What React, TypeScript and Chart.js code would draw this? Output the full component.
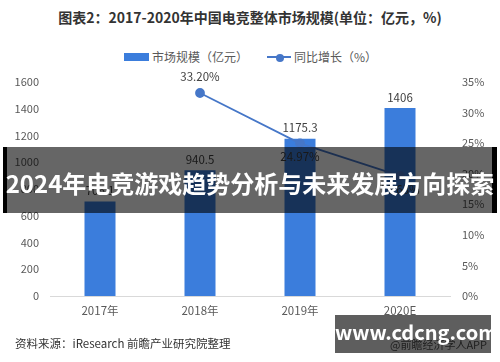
import React, { useEffect, useRef } from "react";
import { Chart, registerables } from "chart.js";

Chart.register(...registerables);

const TITLE = "图表2：2017-2020年中国电竞整体市场规模(单位：亿元，%)";
const SOURCE = "资料来源：iResearch 前瞻产业研究院整理";
const BANNER = "2024年电竞游戏趋势分析与未来发展方向探索";
const SITE = "www.cdcng.com";
const APP_MARK = "@前瞻经济学人APP";

const categories = ["2017年", "2018年", "2019年", "2020E"];
const marketLabel = "市场规模（亿元）";
const marketValues = [706.1, 940.5, 1175.3, 1406];
const growthLabel = "同比增长（%）";
const growthValues = [null, 33.2, 24.97, 19.63];
const leftTicks = { min: 0, max: 1600, step: 200 };
const rightTicks = { min: 0, max: 35, step: 5 };

const FONT = '"Noto Sans CJK SC", "Noto Sans", sans-serif';
const BAR_COLOR = "#3b7ddc";
const LINE_COLOR = "#4677c8";
const TICK_COLOR = "#595959";

const labelPlugin = {
  id: "valueLabels",
  afterDatasetsDraw(chart: any) {
    const ctx = chart.ctx;
    ctx.save();
    ctx.font = `11.5px ${FONT}`;
    ctx.fillStyle = "#404040";
    ctx.textAlign = "center";
    const barMeta = chart.getDatasetMeta(0);
    barMeta.data.forEach((el: any, i: number) => {
      ctx.textBaseline = "bottom";
      ctx.fillText(String(marketValues[i]), el.x, el.y - 5);
    });
    const lineMeta = chart.getDatasetMeta(1);
    lineMeta.data.forEach((el: any, i: number) => {
      const v = growthValues[i];
      if (v === null || v === undefined) return;
      const txt = v.toFixed(2) + "%";
      if (i === 1) {
        ctx.textBaseline = "bottom";
        ctx.fillText(txt, el.x, el.y - 11);
      } else {
        ctx.textBaseline = "top";
        ctx.fillText(txt, el.x, el.y + 8);
      }
    });
    ctx.restore();
  },
};

export default function App() {
  const ref = useRef<HTMLCanvasElement | null>(null);

  useEffect(() => {
    if (!ref.current) return;
    const chart = new Chart(ref.current, {
      type: "bar",
      data: {
        labels: categories,
        datasets: [
          {
            type: "bar",
            label: marketLabel,
            data: marketValues,
            backgroundColor: BAR_COLOR,
            categoryPercentage: 1,
            barPercentage: 0.31,
            yAxisID: "y",
            order: 2,
          },
          {
            type: "line",
            label: growthLabel,
            data: growthValues as any,
            borderColor: LINE_COLOR,
            backgroundColor: LINE_COLOR,
            borderWidth: 1.8,
            pointRadius: 4,
            pointBackgroundColor: LINE_COLOR,
            pointBorderColor: LINE_COLOR,
            yAxisID: "y1",
            order: 1,
          } as any,
        ],
      },
      options: {
        animation: false,
        responsive: false,
        layout: { padding: { top: 82, bottom: 38, left: 0, right: 0 } },
        plugins: {
          legend: { display: false },
          title: { display: false },
          tooltip: { enabled: false },
        },
        scales: {
          x: {
            grid: { display: false, drawTicks: false },
            border: { display: true, color: "#d9d9d9", width: 1 },
            ticks: { color: TICK_COLOR, font: { family: FONT, size: 11.5 }, padding: 8 },
            afterFit: (s: any) => {
              s.height = 28;
            },
          },
          y: {
            position: "left",
            min: leftTicks.min,
            max: leftTicks.max,
            grid: { display: false, drawTicks: false },
            border: { display: false },
            ticks: {
              stepSize: leftTicks.step,
              color: TICK_COLOR,
              font: { family: FONT, size: 11 },
              padding: 11,
              callback: (v: any) => String(v),
            },
            afterFit: (s: any) => {
              s.width = 50;
            },
          },
          y1: {
            position: "right",
            min: rightTicks.min,
            max: rightTicks.max,
            grid: { display: false, drawTicks: false },
            border: { display: false },
            ticks: {
              stepSize: rightTicks.step,
              color: TICK_COLOR,
              font: { family: FONT, size: 11 },
              padding: 12,
              callback: (v: any) => v + "%",
            },
            afterFit: (s: any) => {
              s.width = 50;
            },
          },
        },
      } as any,
      plugins: [labelPlugin],
    });
    return () => chart.destroy();
  }, []);

  const abs = (o: any) => ({ position: "absolute" as const, ...o });

  return (
    <div
      style={{
        position: "fixed",
        left: 0,
        top: 0,
        width: 500,
        height: 362,
        background: "#fff",
        overflow: "hidden",
        fontFamily: FONT,
      }}
    >
      <div
        style={abs({
          left: 0,
          top: 7,
          width: 500,
          textAlign: "center",
          fontSize: 14,
          fontWeight: 700,
          color: "#333",
          lineHeight: "20px",
          whiteSpace: "nowrap",
        })}
      >
        {TITLE}
      </div>
      {/* legend */}
      <div style={abs({ left: 124, top: 53, width: 25, height: 8, background: BAR_COLOR })} />
      <div style={abs({ left: 152, top: 49, fontSize: 12, color: TICK_COLOR, lineHeight: "16px", whiteSpace: "nowrap" })}>
        {marketLabel}
      </div>
      <div style={abs({ left: 267, top: 56, width: 24, height: 2, background: LINE_COLOR })} />
      <div style={abs({ left: 275.5, top: 53.5, width: 8, height: 8, borderRadius: 4, background: LINE_COLOR })} />
      <div style={abs({ left: 294, top: 49, fontSize: 12, color: TICK_COLOR, lineHeight: "16px", whiteSpace: "nowrap" })}>
        {growthLabel}
      </div>

      <canvas ref={ref} width={500} height={362} style={abs({ left: 0, top: 0, width: 500, height: 362 })} />

      <div style={abs({ left: 15, top: 336, fontSize: 11.5, color: "#333", lineHeight: "14px", whiteSpace: "nowrap" })}>
        {SOURCE}
      </div>
      <div style={abs({ left: 390, top: 337, fontSize: 11, color: "#555", lineHeight: "14px", whiteSpace: "nowrap" })}>
        {APP_MARK}
      </div>

      {/* banner overlay */}
      <div style={abs({ left: 3, top: 147, width: 494, height: 66, background: "rgba(0,0,0,0.6)" })} />
      <div style={abs({ left: 3, top: 147, width: 4, height: 66, background: "#000" })} />
      <div style={abs({ left: 492, top: 147, width: 5, height: 66, background: "#000" })} />
      <div
        style={abs({
          left: 0,
          top: 166,
          width: 500,
          textAlign: "center",
          fontSize: 24,
          fontWeight: 700,
          color: "#fff",
          lineHeight: "34px",
          whiteSpace: "nowrap",
        })}
      >
        {BANNER}
      </div>

      {/* site watermark */}
      <div style={abs({ left: 335, top: 315, width: 156, height: 38, background: "rgba(0,0,0,0.63)" })} />
      <div
        style={abs({
          left: 335,
          top: 318,
          width: 156,
          textAlign: "center",
          fontSize: 20,
          fontWeight: 700,
          color: "#fff",
          lineHeight: "28px",
          whiteSpace: "nowrap",
        })}
      >
        {SITE}
      </div>
    </div>
  );
}
